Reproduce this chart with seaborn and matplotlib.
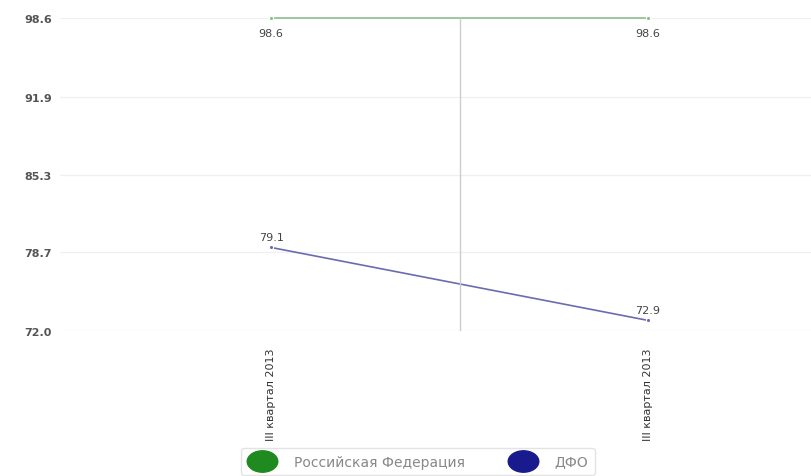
import pandas as pd
import seaborn as sns
import matplotlib.pyplot as plt
from matplotlib.lines import Line2D
from matplotlib.path import Path
from matplotlib.transforms import Affine2D

# data
periods = [0, 1]
period_labels = ['III квартал 2013', 'III квартал 2013']
rf_values = [98.6, 98.6]
dfo_values = [79.1, 72.9]
series_names = ['Российская Федерация', 'ДФО']
y_ticks = [72.0, 78.7, 85.3, 91.9, 98.6]

line_colors = ['#8dbf8d', '#6b6bb0']
legend_colors = ['#1f8a1f', '#1a1a8f']

df = pd.DataFrame({
    'period': periods * 2,
    'value': rf_values + dfo_values,
    'series': [series_names[0]] * 2 + [series_names[1]] * 2,
})

sns.set_style('white')
plt.rcParams['font.family'] = ['DejaVu Sans']

fig = plt.figure(figsize=(8.12, 4.77), dpi=100)
ax = fig.add_axes([60 / 812, 1 - 332 / 477, 752 / 812, 313 / 477])

sns.lineplot(data=df, x='period', y='value', hue='series',
             palette=dict(zip(series_names, line_colors)),
             marker='o', markersize=3, linewidth=1.2, legend=False,
             ax=ax, clip_on=False)

ax.set_xlim(-0.56, 1.435)
ax.set_ylim(72.0, 98.6)
ax.set_yticks(y_ticks)
ax.set_yticklabels([f'{v:.1f}' for v in y_ticks], fontsize=8, color='#555555',
                   fontweight='bold')
ax.set_xticks(periods)
ax.set_xticklabels(period_labels, rotation=90, fontsize=8, color='#333333',
                   va='top')
ax.tick_params(axis='both', length=0, pad=12)
for lbl in ax.get_yticklabels():
    lbl.set_horizontalalignment('left')
ax.tick_params(axis='y', pad=26)
ax.yaxis.grid(True, color='#f0f0f0', linewidth=1)
ax.axvline(0.5, color='#cccccc', linewidth=1)
ax.set_xlabel('')
ax.set_ylabel('')
for s in ax.spines.values():
    s.set_visible(False)

# value labels
for x, v in zip(periods, rf_values):
    ax.annotate(f'{v:.1f}', (x, v), xytext=(0, -7), textcoords='offset points',
                ha='center', va='top', fontsize=8, color='#444444')
for x, v in zip(periods, dfo_values):
    ax.annotate(f'{v:.1f}', (x, v), xytext=(0, 4), textcoords='offset points',
                ha='center', va='bottom', fontsize=8, color='#444444')

# wide oval legend markers
oval = Path.unit_circle().transformed(Affine2D().scale(1.0, 0.7))
handles = [Line2D([], [], linestyle='none', marker=oval, markersize=22,
                  markerfacecolor=c, markeredgecolor=c) for c in legend_colors]
leg = fig.legend(handles, series_names, loc='lower center', ncol=2,
                 bbox_to_anchor=(0.515, -0.012), fontsize=10, frameon=True,
                 handletextpad=1.3, columnspacing=3.2, borderpad=0.45,
                 handlelength=2.0, fancybox=True)
leg.get_frame().set_edgecolor('#dddddd')
for t in leg.get_texts():
    t.set_color('#888888')

fig.savefig('out.png', dpi=100)
